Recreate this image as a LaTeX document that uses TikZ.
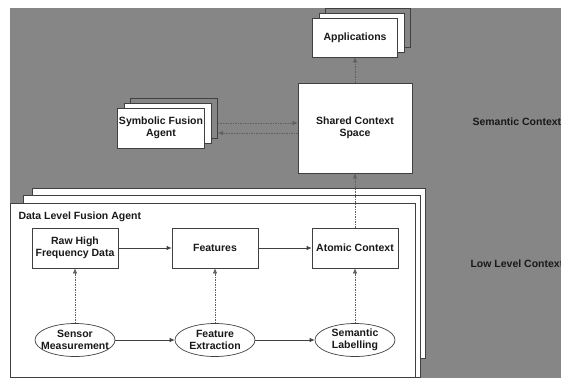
\documentclass[tikz,border=0pt]{standalone}
\usepackage{fontspec}
\setmainfont{Liberation Sans}
\usetikzlibrary{positioning,shapes.geometric,shadows,arrows.meta}

\definecolor{bggray}{RGB}{134,134,134}
\definecolor{edgegray}{RGB}{64,64,64}
\definecolor{dashgray}{RGB}{96,96,96}
\definecolor{textgray}{RGB}{25,25,25}

\tikzset{
  block/.style={rectangle, draw=edgegray, fill=white, text=textgray, line width=0.7pt,
    minimum width=86pt, minimum height=40pt, inner sep=1pt},
  proc/.style={ellipse, draw=edgegray, fill=white, text=textgray, line width=0.7pt,
    minimum width=80pt, minimum height=33pt, inner xsep=-6pt, inner ysep=0pt},
  stacked/.style={
    copy shadow={shadow xshift=13pt, shadow yshift=10pt, fill=bggray, draw=edgegray, opacity=1},
    copy shadow={shadow xshift=7pt, shadow yshift=5pt, fill=white, draw=edgegray, opacity=1}},
  flow/.style={->, draw=edgegray, line width=0.7pt},
  link/.style={->, draw=dashgray, line width=0.6pt, dash pattern=on 1.5pt off 1pt},
  frame/.style={draw=edgegray, fill=white, line width=0.7pt}
}

\begin{document}
\begin{tikzpicture}[x=1pt, y=-1pt, node distance=140pt, align=center,
    >={Latex[length=5pt,width=4.5pt]},
    font=\fontsize{10.5}{12.5}\selectfont\bfseries]
  \useasboundingbox (0,0) rectangle (561,378);
  \fill[bggray] (10,8) rectangle (561,378);

  % Data level fusion agent, three copies
  \draw[frame] (32,188) rectangle (425,358);
  \draw[frame] (23,195) rectangle (420,377.5);
  \draw[frame] (10,203) rectangle (415,377.5);
  \node (dlfa) [anchor=west, text=textgray] at (15,217) {Data Level Fusion Agent};

  \node (raw) [block] at (75,248) {Raw High\\Frequency Data};
  \node (feat) [block, right of=raw] {Features};
  \node (atomic) [block, right of=feat] {Atomic Context};

  \node (sensor) [proc, below of=raw, node distance=92pt] {Sensor\\Measurement};
  \node (fext) [proc, right of=sensor] {Feature\\Extraction};
  \node (slab) [proc, right of=fext] {Semantic\\Labelling};

  % Semantic level
  \node (scs) [block, minimum width=114pt, minimum height=90pt] at (355,128) {Shared Context\\Space};
  \node (apps) [block, stacked, minimum width=85pt, minimum height=39pt, above of=scs, node distance=90.5pt] {Applications};
  \node (sfa) [block, stacked, minimum width=87pt, left of=scs, node distance=194pt] {Symbolic Fusion\\Agent};

  \node (semctx) [anchor=west, text=textgray] at (469,122) {Semantic Context};
  \node (lowctx) [anchor=west, text=textgray] at (467,264) {Low Level Context};

  % Solid arrows
  \draw[flow] (raw) -- (feat);
  \draw[flow] (feat) -- (atomic);
  \draw[flow] (sensor) -- (fext);
  \draw[flow] (fext) -- (slab);

  % Dashed arrows
  \draw[link] (sensor) -- (raw);
  \draw[link] (fext) -- (feat);
  \draw[link] (slab) -- (atomic);
  \draw[link] (atomic) -- (scs);
  \draw[link] (scs) -- (apps);
  \draw[link] ([xshift=13pt,yshift=5pt]sfa.east) -- ([yshift=5pt]scs.west);
  \draw[link] ([yshift=-5pt]scs.west) -- ([xshift=13pt,yshift=-5pt]sfa.east);
\end{tikzpicture}
\end{document}
